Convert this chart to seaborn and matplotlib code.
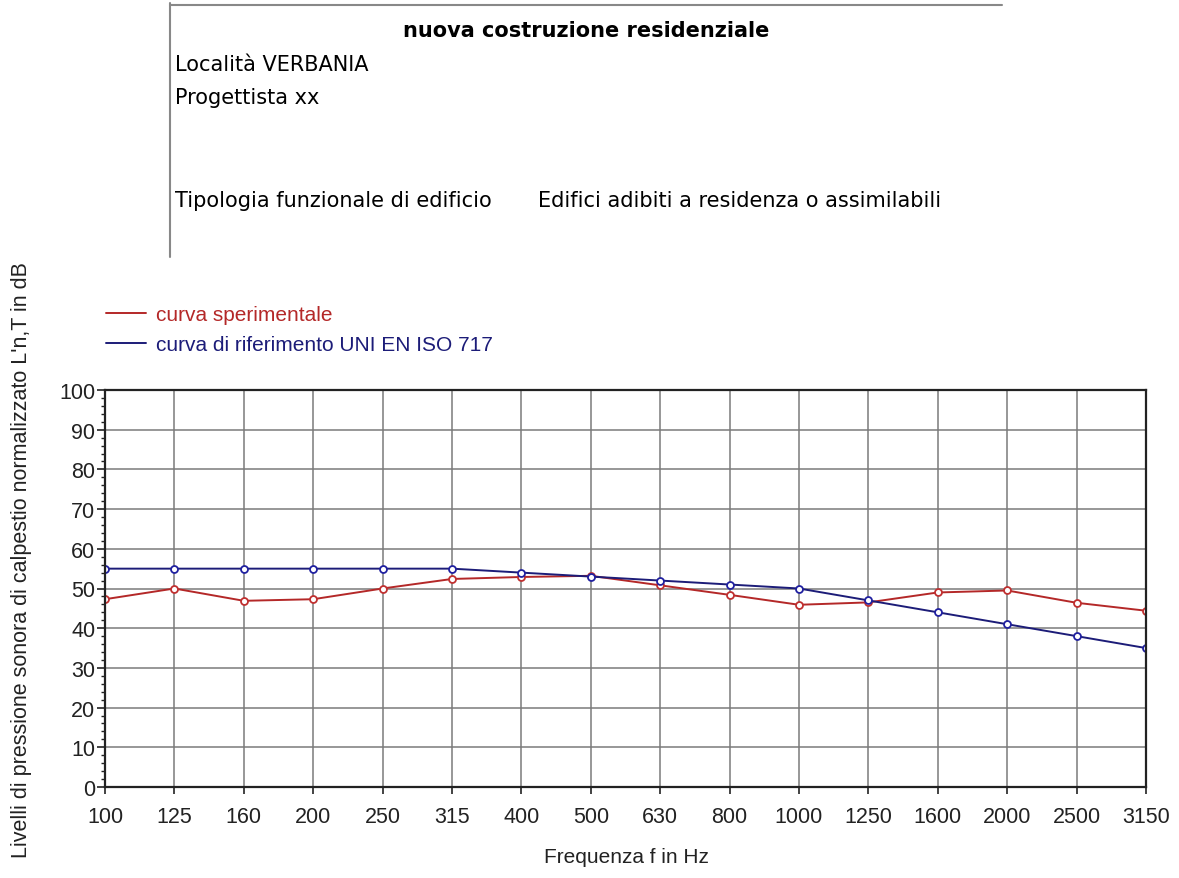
import numpy as np
import pandas as pd
import seaborn as sns
import matplotlib.pyplot as plt
from matplotlib.ticker import MultipleLocator
from matplotlib.lines import Line2D

freqs = ["100", "125", "160", "200", "250", "315", "400", "500", "630",
         "800", "1000", "1250", "1600", "2000", "2500", "3150"]
sperimentale = [47.3, 50.0, 46.9, 47.3, 50.0, 52.4, 52.9, 53.2, 50.8,
                48.4, 45.9, 46.5, 49.0, 49.5, 46.4, 44.4]
riferimento = [55, 55, 55, 55, 55, 55, 54, 53, 52, 51, 50, 47, 44, 41, 38, 35]

pos = np.arange(len(freqs))
df = pd.DataFrame({
    "pos": np.concatenate([pos, pos]),
    "L": sperimentale + riferimento,
    "curva": ["curva sperimentale"] * len(freqs)
             + ["curva di riferimento UNI EN ISO 717"] * len(freqs),
})

sns.set_style("white")
arial = ["Liberation Sans", "DejaVu Sans"]
W, H = 1179, 879

fig = plt.figure(figsize=(W / 100, H / 100), dpi=100)
ax = fig.add_axes([105 / W, 1 - 788 / H, 1041 / W, 397 / H])

palette = {"curva sperimentale": "#b42828",
           "curva di riferimento UNI EN ISO 717": "#1c1c78"}
sns.lineplot(data=df, x="pos", y="L", hue="curva", palette=palette,
             marker="o", markersize=5, markerfacecolor="white",
             markeredgewidth=1.3, linewidth=1.4, ax=ax, legend=False)
for line, c in zip(ax.get_lines(), ["#c03030", "#2020a0"]):
    line.set_markeredgecolor(c)

ax.set_xlim(0, len(freqs) - 1)
ax.set_ylim(0, 100)
ax.set_xticks(pos)
ax.set_xticklabels(freqs, family=arial, fontsize=15.5)
ax.yaxis.set_major_locator(MultipleLocator(10))
ax.yaxis.set_minor_locator(MultipleLocator(2))
for t in ax.get_yticklabels():
    t.set_family(arial)
    t.set_fontsize(15.5)
ax.tick_params(axis="y", which="major", length=6, width=1.2, left=True, pad=1,
               colors="#222222")
ax.tick_params(axis="y", which="minor", length=3, width=1, left=True,
               colors="#222222")
ax.tick_params(axis="x", which="major", length=5, width=1.2, bottom=True, pad=9,
               colors="#222222")
ax.grid(True, which="major", color="#7a7a7a", linewidth=1.1)
for s in ax.spines.values():
    s.set_color("#222222")
    s.set_linewidth(1.6)
ax.set_xlabel("")
ax.set_ylabel("")

fig.text(626 / W, 1 - 858 / H, "Frequenza f in Hz", family=arial, fontsize=15,
         ha="center", va="center", color="#222222")
fig.text(22 / W, 1 - 560 / H,
         "Livelli di pressione sonora di calpestio normalizzato L'n,T in dB",
         family=arial, fontsize=15.5, rotation=90, ha="center", va="center",
         color="#222222")

# legend above the plot
handles = [Line2D([], [], color="#b42828", linewidth=1.4),
           Line2D([], [], color="#1c1c78", linewidth=1.4)]
leg = fig.legend(handles, ["curva sperimentale", "curva di riferimento UNI EN ISO 717"],
                 loc="upper left", bbox_to_anchor=(96 / W, 1 - 296 / H), frameon=False,
                 prop={"family": arial, "size": 15}, handlelength=1.9,
                 handletextpad=0.5, labelspacing=0.5, borderpad=0)
for t, c in zip(leg.get_texts(), ["#b42828", "#1c1c78"]):
    t.set_color(c)

# header block
fig.add_artist(Line2D([170 / W, 170 / W], [1 - 4 / H, 1 - 258 / H],
                      color="#888888", linewidth=1.5))
fig.add_artist(Line2D([170 / W, 1002 / W], [1 - 6 / H, 1 - 6 / H],
                      color="#888888", linewidth=1.5))
hdr = dict(family="DejaVu Sans", fontsize=15, va="center", color="black")
fig.text(586 / W, 1 - 31 / H, "nuova costruzione residenziale",
         ha="center", fontweight="bold", **hdr)
fig.text(175 / W, 1 - 65 / H, "Località VERBANIA", ha="left", **hdr)
fig.text(175 / W, 1 - 98 / H, "Progettista xx", ha="left", **hdr)
fig.text(175 / W, 1 - 201 / H, "Tipologia funzionale di edificio", ha="left", **hdr)
fig.text(538 / W, 1 - 201 / H, "Edifici adibiti a residenza o assimilabili",
         ha="left", **hdr)

fig.savefig("out.png", dpi=100)
